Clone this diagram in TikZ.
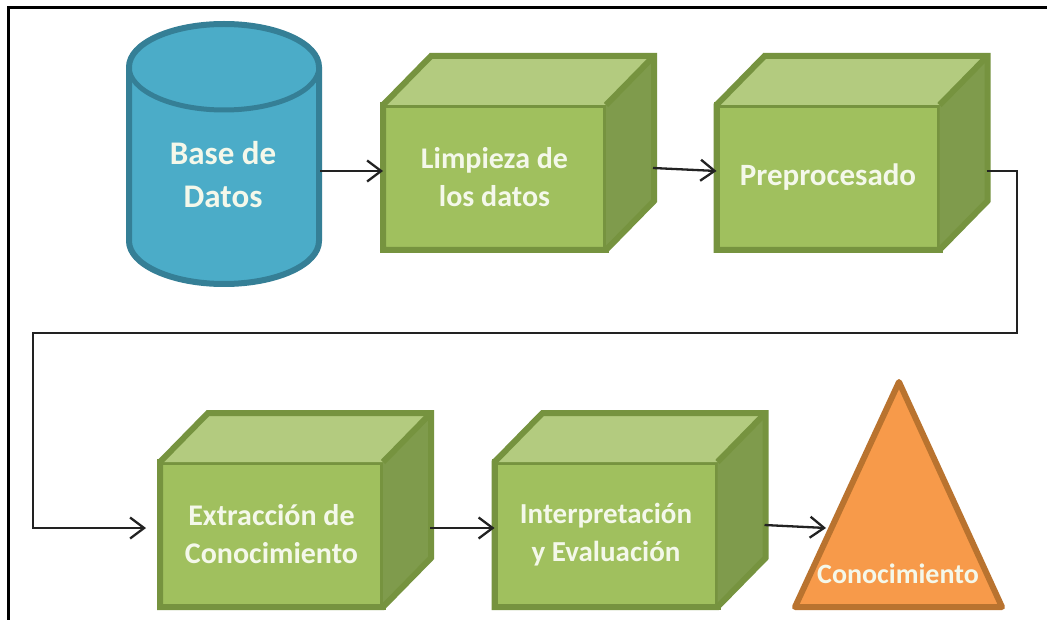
\documentclass[tikz,border=0pt]{standalone}
\usepackage{fontspec}
\setmainfont{Carlito}[BoldFont=Carlito Bold]
\usetikzlibrary{arrows.meta,calc}
\definecolor{gfill}{HTML}{A0C05E}
\definecolor{gline}{HTML}{76933F}
\definecolor{gtop}{HTML}{B3CB7F}
\definecolor{gside}{HTML}{7F9B4C}
\definecolor{cfill}{HTML}{4BACC8}
\definecolor{cline}{HTML}{357F96}
\definecolor{ofill}{HTML}{F79A4A}
\definecolor{oline}{HTML}{B9732F}
\definecolor{ink}{HTML}{222222}
\definecolor{label}{HTML}{F4F8EA}
\tikzset{
  front/.style={draw=gline,fill=gfill,line width=6pt,minimum width=223pt,minimum height=145pt,
    inner sep=0pt,outer sep=0pt,align=center,text=label},
  outline/.style={draw=gline,line width=6pt,line join=miter},
  flow/.style={draw=ink,line width=2.3pt,-{Straight Barb[length=14pt,width=21pt,line width=2.3pt]}},
  frameline/.style={draw=black,line width=3pt},
  plainlabel/.style={inner sep=0pt,outer sep=0pt,align=center,text=label}
}
% name, centre x, centre y, exit y, font size, text
\newcommand{\cuboid}[6]{%
  \node[front,font=\fontsize{#5}{38}\selectfont\bfseries] (#1) at (#2,#3) {#6};
  \coordinate (#1-tl) at ($(#1.north west)+(48,-49)$);
  \coordinate (#1-tr) at ($(#1.north east)+(48,-49)$);
  \coordinate (#1-br) at ($(#1.south east)+(48,-49)$);
  \fill[gtop] (#1.north west) -- (#1-tl) -- (#1-tr) -- (#1.north east) -- cycle;
  \fill[gside] (#1.north east) -- (#1-tr) -- (#1-br) -- (#1.south east) -- cycle;
  \draw[outline] (#1.north east) -- (#1-tr);
  \draw[outline] (#1.north west) -- (#1-tl) -- (#1-tr) -- (#1-br) -- (#1.south east) -- (#1.south west) -- cycle;
  \coordinate (#1-out) at ($(#1.east |- 0,#4)+(47,0)$);
}
\begin{document}
\begin{tikzpicture}[x=1pt,y=-1pt]
\useasboundingbox (0,0) rectangle (1047,620);
\fill[white] (0,0) rectangle (1047,620);
\coordinate (fa) at (8,620);
\coordinate (fb) at (8,8);
\coordinate (fc) at (1047,8);
\draw[frameline] (fa) -- (fb) -- (fc);
% cylinder
\draw[cline,fill=cfill,line width=6pt] (129,67) -- (129,241) arc[start angle=180,end angle=0,x radius=95,y radius=43] -- (319,67) arc[start angle=0,end angle=-180,x radius=95,y radius=43] -- cycle;
\draw[cline,line width=5pt] (129,67) arc[start angle=180,end angle=0,x radius=95,y radius=43];
\node[plainlabel,font=\fontsize{33}{43}\selectfont\bfseries] (db) at (223,175) {Base de\\Datos};
\coordinate (db-out) at (320,171);
% boxes
\cuboid{clean}{494.5}{177.5}{168}{30}{Limpieza de\\los datos}
\cuboid{prep}{828}{177.5}{171}{31}{Preprocesado}
\cuboid{extr}{271.5}{534.5}{528}{30}{Extracción de\\Conocimiento}
\cuboid{inter}{606}{534.5}{525}{29}{Interpretación\\y Evaluación}
% triangle
\coordinate (ta) at (899,382);
\coordinate (tb) at (795,607);
\coordinate (tc) at (1002,607);
\draw[draw=oline,fill=ofill,line width=6pt,line join=round] (ta) -- (tc) -- (tb) -- cycle;
\node[plainlabel,font=\fontsize{28}{34}\selectfont\bfseries] (know) at (898,574) {Conocimiento};
\coordinate (know-in) at (826,528);
% connectors
\coordinate (clean-in) at (clean.west |- 0,171);
\draw[flow] (db-out) -- (clean-in);
\coordinate (prep-in) at (prep.west |- 0,171);
\draw[flow] (clean-out) -- (prep-in);
\coordinate (c1) at (1017,171);
\coordinate (c2) at (1017,333);
\coordinate (c3) at (33,333);
\coordinate (c4) at (33,528);
\coordinate (extr-in) at (146,528);
\draw[flow] (prep-out) -- (c1) -- (c2) -- (c3) -- (c4) -- (extr-in);
\coordinate (inter-in) at (inter.west |- 0,528);
\draw[flow] (extr-out) -- (inter-in);
\draw[flow] (inter-out) -- (know-in);
\end{tikzpicture}
\end{document}
